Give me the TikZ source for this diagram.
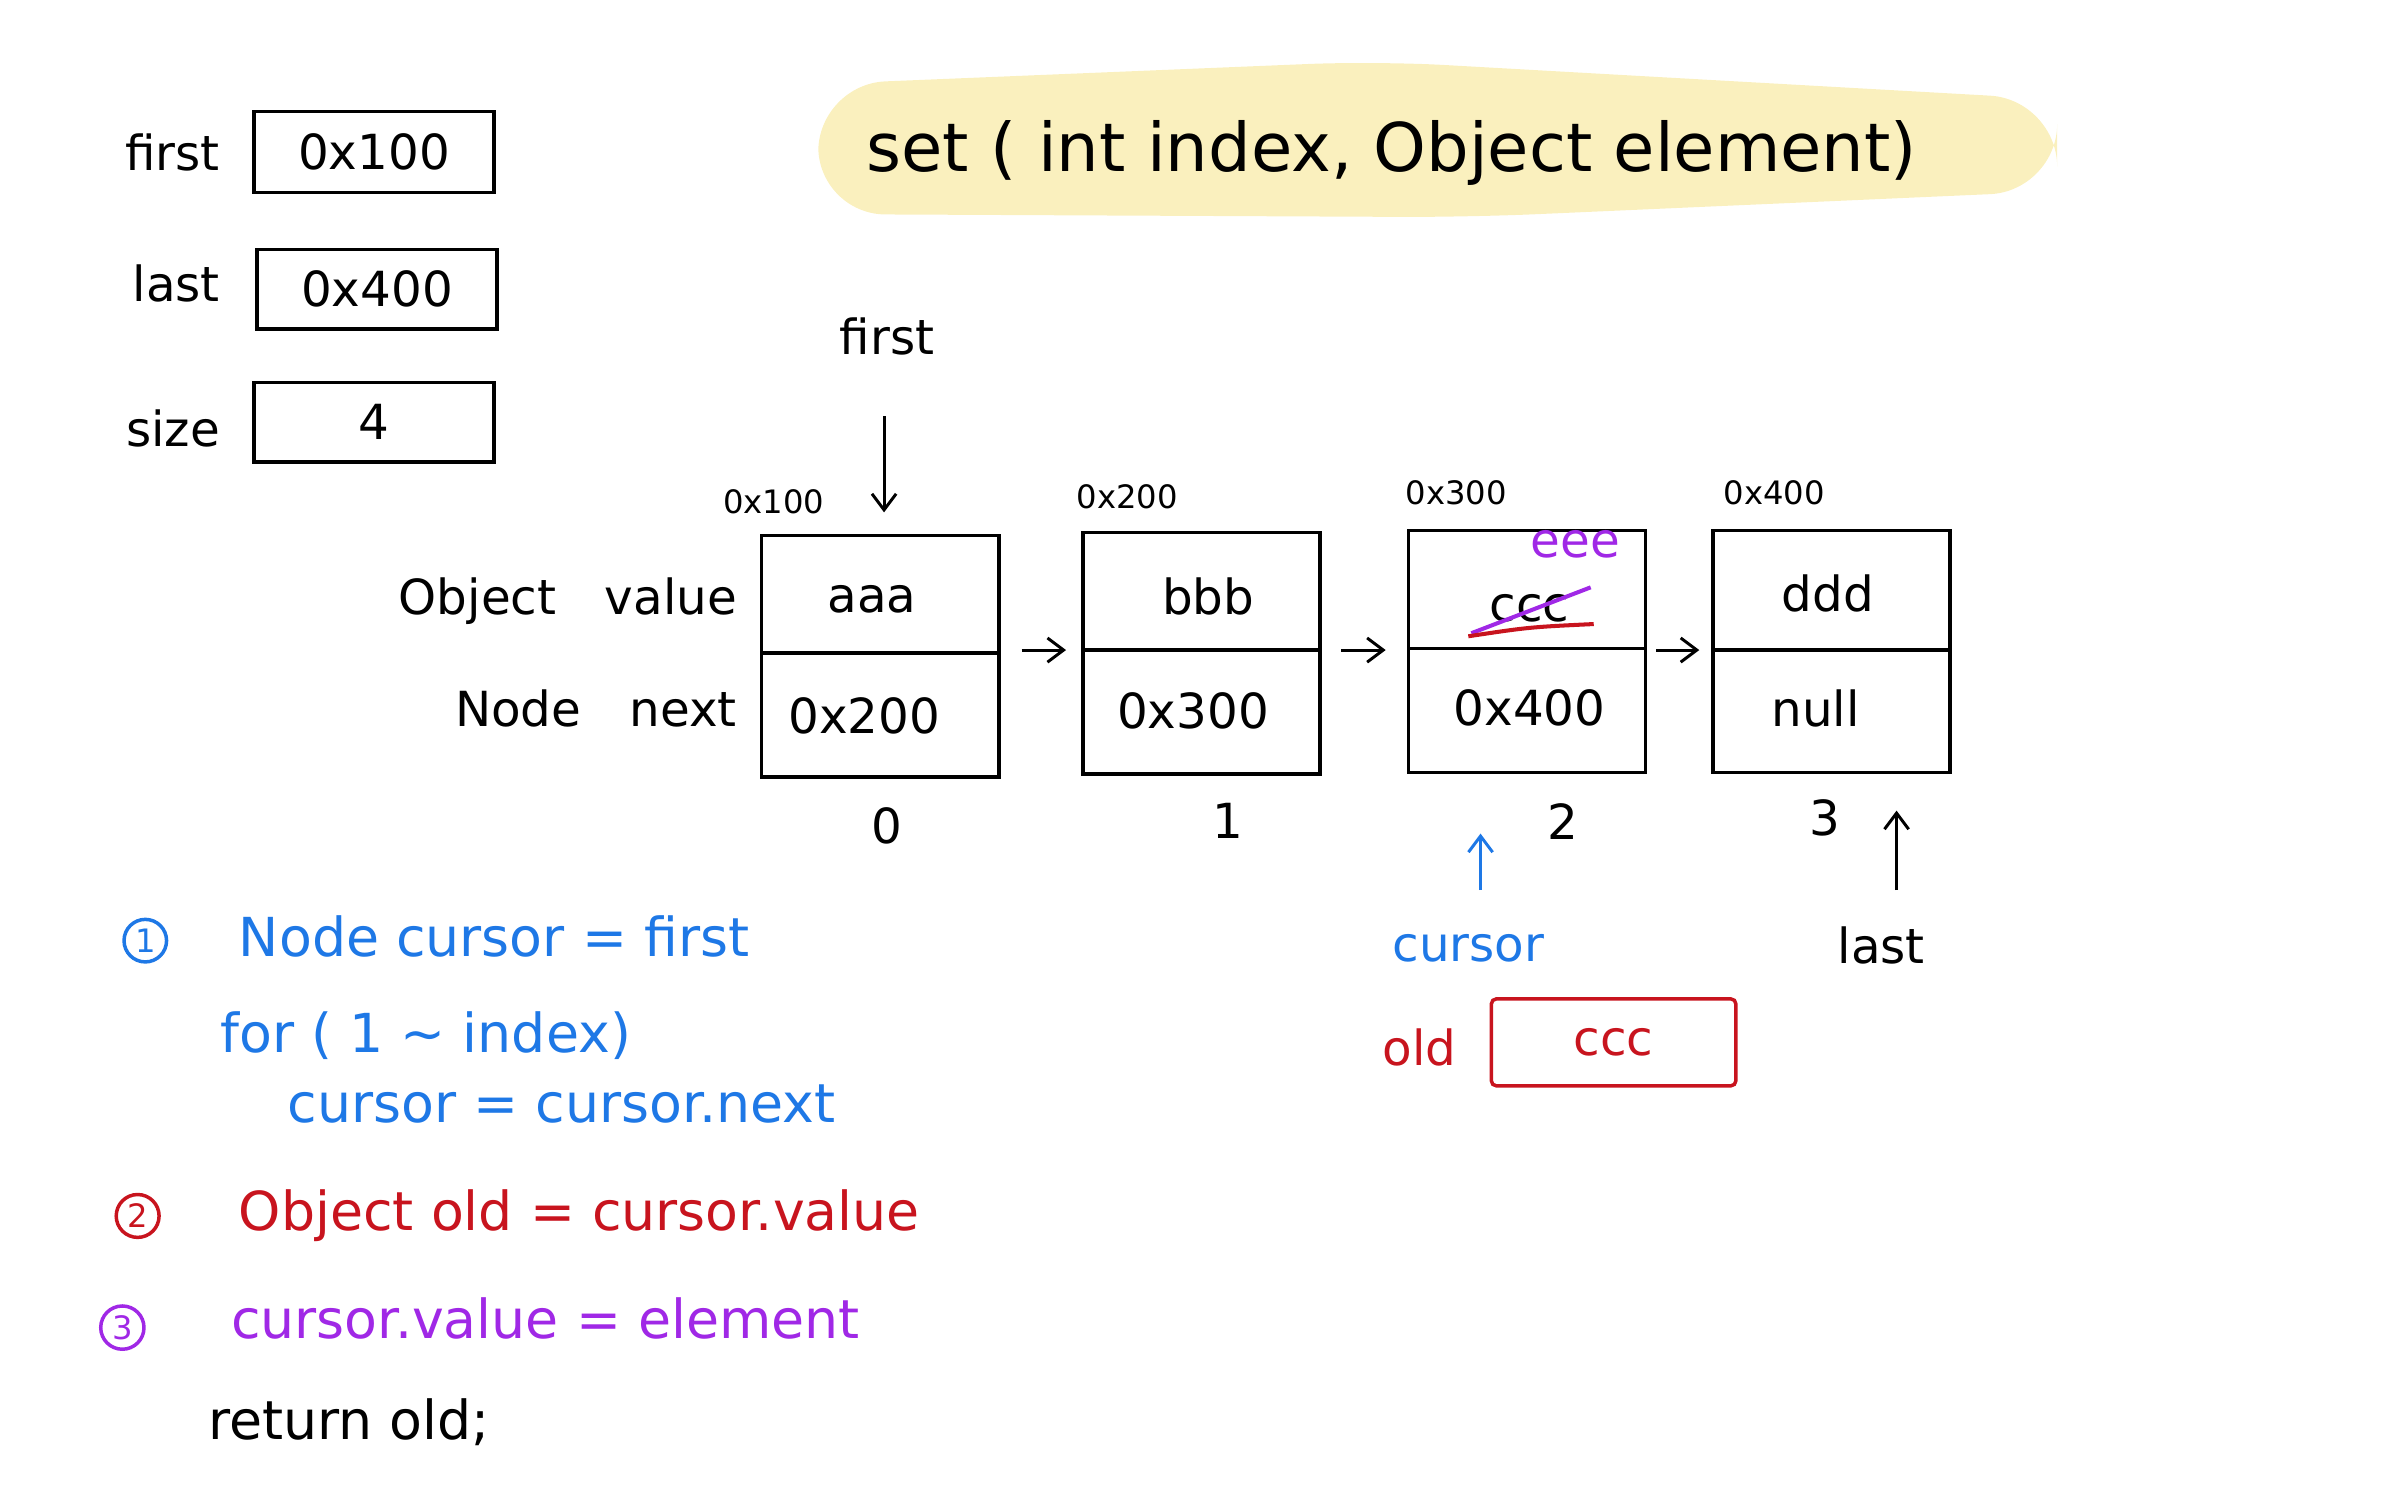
\documentclass[tikz,border=0pt]{standalone}
\usepackage{fontspec}
\setmainfont{DejaVu Sans}
\usetikzlibrary{arrows.meta}
\definecolor{hblue}{RGB}{30,120,230}
\definecolor{hred}{RGB}{200,20,30}
\definecolor{hpurple}{RGB}{160,40,230}
\definecolor{hyellow}{RGB}{250,240,190}
\begin{document}
\begin{tikzpicture}[x=0.02cm,y=-0.02cm,
  box/.style={draw,line width=1.3pt},
  lbl/.style={font=\fontsize{18}{22}\selectfont},
  code/.style={font=\fontsize{20}{24}\selectfont,anchor=west},
  small/.style={font=\fontsize{12}{14}\selectfont},
  arr/.style={-{Straight Barb[length=6pt,width=9pt]},line width=1.1pt},
  circ/.style={circle,draw,line width=1.3pt,inner sep=1.5pt,font=\fontsize{12}{14}\selectfont}]
\useasboundingbox (0,0) rectangle (1560,975);
% top-left variables
\node[lbl,anchor=east] (lfirst) at (150,100) {first};
\draw[box] (166,73) rectangle node[lbl] (vfirst) {0x100} (323,126);
\node[lbl,anchor=east] (llast) at (150,185) {last};
\draw[box] (168,163) rectangle node[lbl] (vlast) {0x400} (325,215);
\node[lbl,anchor=east] (lsize) at (150,280) {size};
\draw[box] (166,250) rectangle node[lbl] (vsize) {4} (323,302);
% title highlight
\fill[hyellow,rounded corners=25pt] (535,55) -- (900,40) -- (1345,65) -- (1345,125) -- (960,142) -- (535,140) -- cycle;
\node[font=\fontsize{25}{30}\selectfont] (title) at (910,100) {set ( int index, Object element)};
% first pointer
\node[lbl] (pfirst) at (580,220) {first};
\coordinate (fa) at (578,272); \coordinate (fb) at (578,335);
\draw[arr] (fa) -- (fb);
% nodes
\draw[box] (498,350) rectangle (653,508); \draw[line width=1.3pt] (498,427) -- (653,427);
\draw[box] (708,348) rectangle (863,506); \draw[line width=1.3pt] (708,425) -- (863,425);
\draw[box] (921,347) rectangle (1076,505); \draw[line width=1.3pt] (921,424) -- (1076,424);
\draw[box] (1120,347) rectangle (1275,505); \draw[line width=1.3pt] (1120,425) -- (1275,425);
\node[small] (a0) at (506,328) {0x100};
\node[small] (a1) at (737,325) {0x200};
\node[small] (a2) at (952,322) {0x300};
\node[small] (a3) at (1160,322) {0x400};
\node[lbl] (v0) at (570,392) {aaa};
\node[lbl] (v1) at (790,390) {bbb};
\node[lbl] (v2) at (1000,398) {ccc};
\draw[hpurple,line width=1.5pt] (962,414) -- (1040,384);
\draw[hred,line width=1.5pt] (960,416) .. controls (1000,410) .. (1042,408);
\node[lbl,text=hpurple] (v2n) at (1030,356) {eee};
\node[lbl] (v3) at (1195,388) {ddd};
\node[lbl] (n0) at (565,468) {0x200};
\node[lbl] (n1) at (780,465) {0x300};
\node[lbl] (n2) at (1000,463) {0x400};
\node[lbl] (n3) at (1187,463) {null};
\coordinate (c0a) at (668,425); \coordinate (c0b) at (697,425);
\coordinate (c1a) at (877,425); \coordinate (c1b) at (906,425);
\coordinate (c2a) at (1083,425); \coordinate (c2b) at (1111,425);
\draw[arr] (c0a) -- (c0b); \draw[arr] (c1a) -- (c1b); \draw[arr] (c2a) -- (c2b);
\node[lbl,anchor=east] (lv) at (488,393) {Object\quad value};
\node[lbl,anchor=east] (ln) at (488,463) {Node\quad next};
\node[lbl] (i0) at (580,540) {0};
\node[lbl] (i1) at (803,537) {1};
\node[lbl] (i2) at (1022,537) {2};
\node[lbl] (i3) at (1193,535) {3};
% cursor / last
\node[lbl,text=hblue] (cur) at (960,620) {cursor};
\coordinate (cu1) at (968,582); \coordinate (cu2) at (968,545);
\draw[arr,hblue] (cu1) -- (cu2);
\node[lbl] (plast) at (1230,618) {last};
\coordinate (la1) at (1240,582); \coordinate (la2) at (1240,530);
\draw[arr] (la1) -- (la2);
\node[lbl,text=hred] (old) at (928,685) {old};
\draw[box,hred,rounded corners=2pt] (975,653) rectangle node[lbl,text=hred] (oldv) {ccc} (1135,710);
% code
\node[circ,hblue] (k1) at (95,615) {1};
\node[code,text=hblue] (c1) at (150,612) {Node cursor = first};
\node[code,text=hblue] (c2) at (138,677) {for ( 1 \textasciitilde{} index)};
\node[code,text=hblue] (c3) at (182,722) {cursor = cursor.next};
\node[circ,hred] (k2) at (90,795) {2};
\node[code,text=hred] (c4) at (150,795) {Object old = cursor.value};
\node[circ,hpurple] (k3) at (80,868) {3};
\node[code,text=hpurple] (c5) at (145,862) {cursor.value = element};
\node[code] (c6) at (130,930) {return old;};
\end{tikzpicture}
\end{document}
